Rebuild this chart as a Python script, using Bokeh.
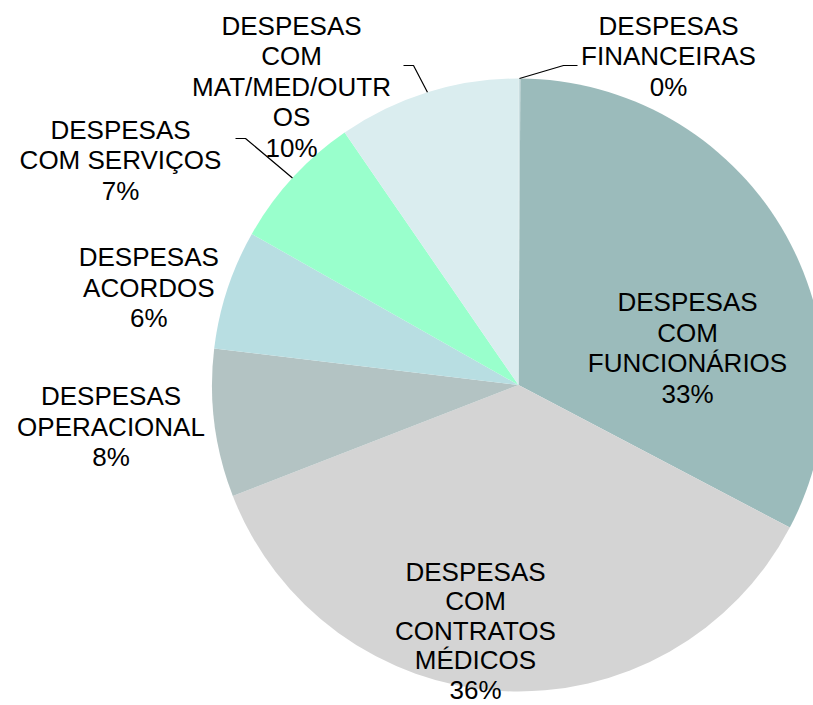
import math
from bokeh.plotting import figure
from bokeh.models import Range1d, ColumnDataSource
from bokeh.core.properties import value
from bokeh.embed import file_html
from bokeh.resources import INLINE

# ---- data ----
categories = [
    "DESPESAS FINANCEIRAS",
    "DESPESAS COM FUNCIONÁRIOS",
    "DESPESAS COM CONTRATOS MÉDICOS",
    "DESPESAS OPERACIONAL",
    "DESPESAS ACORDOS",
    "DESPESAS COM SERVIÇOS",
    "DESPESAS COM MAT/MED/OUTROS",
]
values = [0.1, 32.6, 36.4, 7.8, 6.3, 7.2, 9.6]
label_lines = [
    ["DESPESAS", "FINANCEIRAS"],
    ["DESPESAS", "COM", "FUNCIONÁRIOS"],
    ["DESPESAS", "COM", "CONTRATOS", "MÉDICOS"],
    ["DESPESAS", "OPERACIONAL"],
    ["DESPESAS", "ACORDOS"],
    ["DESPESAS", "COM SERVIÇOS"],
    ["DESPESAS", "COM", "MAT/MED/OUTR", "OS"],
]

# ---- style / layout ----
colors = ["#C9DDE0", "#9BBBBB", "#D4D4D4", "#B3C3C3", "#B8DEE2", "#99FFCC", "#DAEDEF"]
W, H = 813, 705
CX, CY, R = 518.0, 384.5, 306.5  # in page pixels (y down)
FONT = "Liberation Sans"
FS = 26
LH = 30.6
SHIFT = 10  # renderer places alphabetic baseline lower; compensate
# label anchor: (center x, first baseline y, line height) in page pixels
label_pos = [(668, 35, LH), (687, 311.7, LH), (475, 581.5, 29.4), (110.5, 405.7, LH),
             (148.3, 266.7, LH), (120, 139, LH), (291, 35, LH)]
# leader elbows (page pixels), from label side toward the slice
leaders = {0: [(577, 65), (563, 65)], 6: [(403, 65), (413, 65)], 5: [(235, 138), (245, 138)]}


def Y(v):
    return H - v


total = sum(values)
starts, ends, mids = [], [], []
cum = 0.0
for v in values:
    a0 = math.pi / 2 - 2 * math.pi * cum / total
    cum += v
    a1 = math.pi / 2 - 2 * math.pi * cum / total
    starts.append(a0)
    ends.append(a1)
    mids.append((a0 + a1) / 2)

p = figure(width=W, height=H, x_range=Range1d(0, W), y_range=Range1d(0, H),
           output_backend="svg", toolbar_location=None, min_border=0,
           x_axis_type=None, y_axis_type=None)
p.grid.visible = False
p.outline_line_color = None
p.background_fill_color = "white"
p.border_fill_color = "white"

src = ColumnDataSource(dict(cat=categories, val=values, start=starts, end=ends, color=colors))
p.wedge(x=CX, y=Y(CY), radius=R, start_angle="start", end_angle="end",
        direction="clock", fill_color="color", line_color=None, source=src)

# leader lines
for i, pts in leaders.items():
    ex = CX + R * math.cos(mids[i])
    ey = Y(CY) + R * math.sin(mids[i])
    xs = [q[0] for q in pts] + [ex]
    ys = [Y(q[1]) for q in pts] + [ey]
    p.line(xs, ys, line_color="black", line_width=1.2)

# labels
tx, ty, tt = [], [], []
for i, lines in enumerate(label_lines):
    pct = f"{round(values[i] / total * 100)}%"
    allines = lines + [pct]
    x0, y0, lh = label_pos[i]
    for k, t in enumerate(allines):
        tx.append(x0)
        ty.append(Y(y0 + k * lh - SHIFT))
        tt.append(t)
p.text(x=tx, y=ty, text=tt, text_align="center", text_baseline="alphabetic",
       text_font=value(FONT), text_font_size=f"{FS}px", text_color="black")

open("out.html", "w").write(file_html(p, INLINE))
